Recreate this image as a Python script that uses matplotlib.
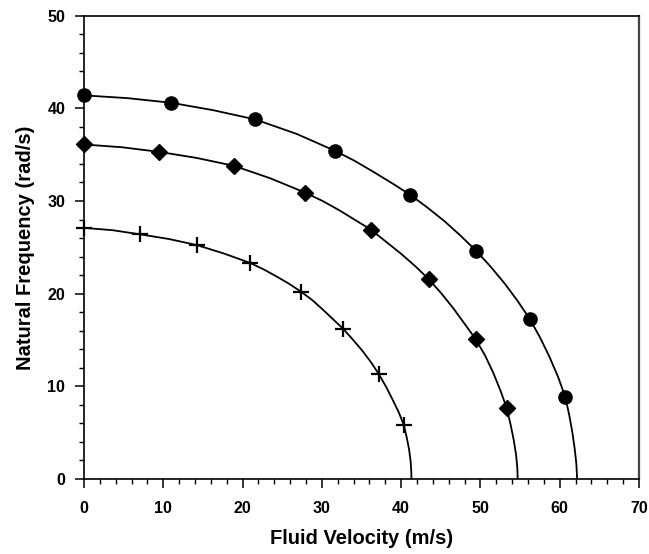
import matplotlib
matplotlib.use("Agg")
import matplotlib.pyplot as plt
from matplotlib.ticker import MultipleLocator

plt.rcParams['font.family'] = ['Liberation Sans', 'DejaVu Sans']
plt.rcParams['font.weight'] = 'bold'

# measured points (markers)
circ_x = [0, 10.97, 21.6, 31.7, 41.1, 49.5, 56.2, 60.7]
circ_y = [41.4, 40.6, 38.8, 35.4, 30.7, 24.6, 17.3, 8.85]
diam_x = [0, 9.5, 18.9, 27.9, 36.2, 43.5, 49.4, 53.3]
diam_y = [36.1, 35.3, 33.8, 30.9, 26.9, 21.55, 15.1, 7.7]
plus_x = [0, 7.1, 14.2, 21.0, 27.4, 32.7, 37.2, 40.35]
plus_y = [27.1, 26.4, 25.25, 23.3, 20.2, 16.2, 11.3, 5.8]

# fitted curves
circ_cx = [0, 5.5, 11.0, 16.3, 21.6, 26.8, 31.7, 34.1, 36.5, 38.8, 41.1, 43.3, 45.5,
           47.5, 49.5, 51.3, 53.1, 54.7, 56.2, 57.5, 58.7, 59.8, 60.7, 61.2, 61.6,
           61.9, 62.1, 62.2]
circ_cy = [41.4, 41.1, 40.6, 39.8, 38.8, 37.25, 35.4, 34.35, 33.15, 31.95, 30.7, 29.3, 27.8,
           26.25, 24.6, 22.9, 21.05, 19.2, 17.3, 15.3, 13.2, 11.0, 8.85, 6.9, 5.0,
           3.2, 1.6, 0]
diam_cx = [0, 4.8, 9.5, 14.2, 18.9, 23.5, 27.9, 30.1, 32.2, 34.2, 36.2, 38.1, 40.0,
           41.8, 43.5, 45.1, 46.6, 48.0, 49.4, 50.6, 51.6, 52.5, 53.3, 53.8, 54.2,
           54.5, 54.65, 54.7]
diam_cy = [36.1, 35.8, 35.3, 34.65, 33.8, 32.45, 30.9, 30.0, 29.0, 27.95, 26.9, 25.6, 24.3,
           22.95, 21.55, 20.0, 18.4, 16.75, 15.1, 13.3, 11.5, 9.6, 7.7, 5.9, 4.2,
           2.6, 1.2, 0]
plus_cx = [0, 3.6, 7.1, 10.7, 14.2, 17.6, 21.0, 22.7, 24.3, 25.9, 27.4, 28.8, 30.1,
           31.4, 32.7, 33.9, 35.1, 36.2, 37.2, 38.1, 38.9, 39.7, 40.35, 40.7, 41.0,
           41.2, 41.28, 41.3]
plus_cy = [27.1, 26.85, 26.4, 25.9, 25.25, 24.35, 23.3, 22.6, 21.85, 21.05, 20.2, 19.3, 18.3,
           17.25, 16.2, 15.05, 13.85, 12.6, 11.3, 9.95, 8.6, 7.2, 5.8, 4.5, 3.2,
           1.9, 0.8, 0]

fig = plt.figure(figsize=(6.49, 5.54), dpi=100)
ax = fig.add_axes([0.1294, 0.1354, 0.8552, 0.8363])

for cx, cy in [(circ_cx, circ_cy), (diam_cx, diam_cy), (plus_cx, plus_cy)]:
    ax.plot(cx, cy, color='black', lw=1.3, solid_joinstyle='round', zorder=2)

ax.plot(circ_x, circ_y, 'o', color='black', ms=9.5, zorder=3, clip_on=False)
ax.plot(diam_x, diam_y, 'D', color='black', ms=7.8, zorder=3, clip_on=False)
ax.plot(plus_x, plus_y, '+', color='black', ms=11, mew=1.6, zorder=3, clip_on=False)

ax.set_xlim(0, 70)
ax.set_ylim(0, 50)
ax.xaxis.set_major_locator(MultipleLocator(10))
ax.xaxis.set_minor_locator(MultipleLocator(2))
ax.yaxis.set_major_locator(MultipleLocator(10))
ax.yaxis.set_minor_locator(MultipleLocator(2))
ax.tick_params(which='major', direction='out', length=6.5, width=1.1, labelsize=11.5, pad=9)
ax.tick_params(which='minor', direction='out', length=3.5, width=1.0)
ax.tick_params(axis='y', which='major', pad=7)
for lab in ax.get_xticklabels() + ax.get_yticklabels():
    lab.set_fontweight('bold')
for s in ax.spines.values():
    s.set_linewidth(1.2)
ax.spines['right'].set_color('#444444')
ax.spines['right'].set_linewidth(1.6)

ax.set_xlabel('Fluid Velocity (m/s)', fontsize=14.5, fontweight='bold', labelpad=10)
ax.set_ylabel('Natural Frequency (rad/s)', fontsize=14.5, fontweight='bold', labelpad=9)

fig.savefig('out.png', dpi=100)
